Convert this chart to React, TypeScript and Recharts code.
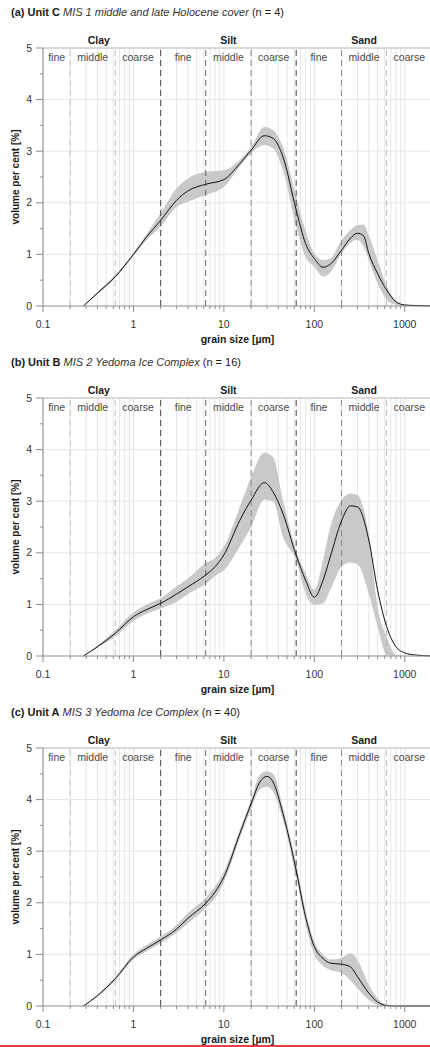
import React from "react";
import {
  ComposedChart,
  Area,
  Line,
  XAxis,
  YAxis,
  CartesianGrid,
  ReferenceLine,
  ReferenceArea,
} from "recharts";

// grain size classes (µm)
const classBounds = [0.2, 0.63, 2, 6.3, 20, 63, 200, 630];
const subClasses = [
  { x1: 0.1, x2: 0.2, label: "fine" },
  { x1: 0.2, x2: 0.63, label: "middle" },
  { x1: 0.63, x2: 2, label: "coarse" },
  { x1: 2, x2: 6.3, label: "fine" },
  { x1: 6.3, x2: 20, label: "middle" },
  { x1: 20, x2: 63, label: "coarse" },
  { x1: 63, x2: 200, label: "fine" },
  { x1: 200, x2: 630, label: "middle" },
  { x1: 630, x2: 2000, label: "coarse" },
];
const fractions = [
  { x1: 0.1, x2: 2, label: "Clay" },
  { x1: 2, x2: 63, label: "Silt" },
  { x1: 63, x2: 2000, label: "Sand" },
];

const decades = [0.1, 1, 10, 100, 1000];
const xTicks = [
  0.1, 0.2, 0.3, 0.4, 0.5, 0.6, 0.7, 0.8, 0.9,
  1, 2, 3, 4, 5, 6, 7, 8, 9,
  10, 20, 30, 40, 50, 60, 70, 80, 90,
  100, 200, 300, 400, 500, 600, 700, 800, 900,
  1000, 2000,
];
const yTicks = [0, 0.5, 1, 1.5, 2, 2.5, 3, 3.5, 4, 4.5, 5];
const yGrid = [1, 2, 3, 4];

// panel titles
const panelTags = ["(a)", "(b)", "(c)"];
const units = ["Unit C", "Unit B", "Unit A"];
const stages = [
  "MIS 1 middle and late Holocene cover",
  "MIS 2 Yedoma Ice Complex",
  "MIS 3 Yedoma Ice Complex",
];
const counts = [4, 16, 40];

// (a) Unit C
const sizeA = [0.28, 0.4, 0.63, 1, 1.4, 2, 3, 4, 6.3, 10, 15, 20, 28, 35, 45, 63, 80, 100, 125, 150, 200, 250, 300, 350, 400, 500, 630, 800, 1000, 1300, 2000];
const meanA = [0, 0.25, 0.57, 1.0, 1.34, 1.66, 2.05, 2.23, 2.36, 2.45, 2.76, 3.02, 3.3, 3.25, 2.89, 1.86, 1.21, 0.92, 0.75, 0.81, 1.08, 1.31, 1.41, 1.36, 1.02, 0.63, 0.31, 0.08, 0.02, 0.01, 0];
const hiA = [0, 0.27, 0.6, 1.03, 1.4, 1.8, 2.28, 2.47, 2.6, 2.63, 2.83, 3.08, 3.47, 3.41, 3.08, 2.12, 1.45, 1.02, 0.89, 0.92, 1.28, 1.47, 1.57, 1.58, 1.37, 0.89, 0.4, 0.1, 0.03, 0.01, 0];
const loA = [0, 0.23, 0.54, 0.97, 1.28, 1.54, 1.92, 2.02, 2.15, 2.31, 2.7, 2.96, 3.12, 3.05, 2.63, 1.54, 0.95, 0.76, 0.57, 0.65, 1.02, 1.22, 1.28, 1.15, 0.89, 0.44, 0.12, 0.02, 0, 0, 0];

// (b) Unit B
const sizeB = [0.28, 0.4, 0.63, 1, 1.4, 2, 3, 4, 6.3, 8, 10, 15, 20, 28, 35, 45, 63, 80, 100, 125, 150, 200, 250, 300, 400, 500, 630, 800, 1000, 1300, 2000];
const meanB = [0, 0.18, 0.44, 0.76, 0.9, 1.02, 1.2, 1.34, 1.57, 1.73, 1.96, 2.63, 3.02, 3.36, 3.18, 2.76, 1.95, 1.47, 1.14, 1.47, 1.92, 2.62, 2.91, 2.89, 2.25, 1.28, 0.57, 0.18, 0.06, 0.02, 0];
const hiB = [0, 0.2, 0.5, 0.85, 1.0, 1.12, 1.35, 1.5, 1.8, 1.9, 2.12, 2.89, 3.47, 3.94, 3.85, 3.02, 2.05, 1.6, 1.28, 1.86, 2.5, 3.02, 3.15, 3.12, 2.35, 0.95, 0.37, 0.02, 0, 0, 0];
const loB = [0, 0.16, 0.38, 0.68, 0.82, 0.92, 1.05, 1.2, 1.4, 1.55, 1.66, 2.12, 2.5, 3.03, 3.0, 2.31, 1.85, 1.21, 0.99, 1.02, 1.28, 1.73, 1.81, 1.78, 1.21, 0.57, 0.03, 0, 0, 0, 0];

// (c) Unit A
const sizeC = [0.28, 0.4, 0.63, 1, 1.4, 2, 3, 4, 6.3, 8, 10, 15, 20, 25, 30, 35, 45, 63, 80, 100, 125, 150, 200, 250, 300, 400, 500, 630, 800, 1000, 2000];
const meanC = [0, 0.2, 0.53, 0.95, 1.12, 1.28, 1.49, 1.7, 1.99, 2.21, 2.5, 3.34, 3.92, 4.34, 4.45, 4.34, 3.73, 2.63, 1.73, 1.15, 0.92, 0.83, 0.81, 0.76, 0.57, 0.25, 0.08, 0.01, 0, 0, 0];
const hiC = [0, 0.22, 0.56, 1.0, 1.18, 1.35, 1.57, 1.8, 2.1, 2.32, 2.6, 3.42, 4.0, 4.48, 4.55, 4.5, 3.85, 2.75, 1.85, 1.25, 1.0, 0.9, 0.93, 1.02, 0.89, 0.41, 0.15, 0.02, 0, 0, 0];
const loC = [0, 0.18, 0.5, 0.9, 1.06, 1.22, 1.42, 1.6, 1.9, 2.1, 2.4, 3.25, 3.82, 4.2, 4.25, 4.15, 3.6, 2.5, 1.6, 1.0, 0.78, 0.7, 0.64, 0.5, 0.34, 0.12, 0.02, 0, 0, 0, 0];

const boundColor: Record<number, string> = {
  0.2: "#c4c4c4",
  0.63: "#c4c4c4",
  2: "#444",
  6.3: "#666",
  20: "#888",
  63: "#444",
  200: "#888",
  630: "#b8b8b8",
};
const AXIS = "#8c8c8c";

const XTick = (p: any) => {
  const { x, y, payload } = p;
  const major = decades.includes(payload.value);
  return (
    <g>
      <line x1={x} x2={x} y1={y} y2={y + (major ? 6 : 3)} stroke={AXIS} />
      {major && (
        <text x={x} y={y + 22} textAnchor="middle" fontSize={10.5} fill="#333">
          {String(payload.value)}
        </text>
      )}
    </g>
  );
};

const YTick = (p: any) => {
  const { x, y, payload } = p;
  const major = Number.isInteger(payload.value);
  return (
    <g>
      <line x1={x - (major ? 7 : 3)} x2={x} y1={y} y2={y} stroke={AXIS} />
      {major && (
        <text x={x - 11} y={y} dy="0.35em" textAnchor="end" fontSize={10.5} fill="#333">
          {String(payload.value)}
        </text>
      )}
    </g>
  );
};

function Panel({ idx, sizes, mean, lo, hi }: any) {
  const rows = sizes.map((s: number, i: number) => ({
    size: s,
    mean: mean[i],
    band: [lo[i], hi[i]],
  }));
  return (
    <div style={{ position: "absolute", left: 0, top: idx * 350, width: 432, height: 350 }}>
      <div
        style={{
          position: "absolute",
          left: 11,
          top: 6,
          fontSize: 11,
          lineHeight: "13px",
          whiteSpace: "nowrap",
          color: "#1a1a1a",
        }}
      >
        <b>
          {panelTags[idx]} {units[idx]}
        </b>{" "}
        <i style={{ color: "#333" }}>{stages[idx]}</i> (n = {counts[idx]})
      </div>
      <div
        style={{
          position: "absolute",
          left: 15,
          top: 177,
          transform: "translate(-50%, -50%) rotate(-90deg)",
          fontSize: 10,
          fontWeight: "bold",
          whiteSpace: "nowrap",
          color: "#1a1a1a",
        }}
      >
        volume per cent [%]
      </div>
      <ComposedChart
        width={432}
        height={350}
        data={rows}
        margin={{ top: 48, right: 0, left: 0, bottom: 0 }}
      >
        <CartesianGrid
          stroke="#e6e6e6"
          horizontalValues={yGrid}
          verticalValues={xTicks}
        />
        <XAxis
          dataKey="size"
          type="number"
          scale="log"
          domain={[0.1, 2000]}
          allowDataOverflow
          ticks={xTicks}
          interval={0}
          tickSize={0}
          tickMargin={0}
          tickLine={false}
          axisLine={{ stroke: AXIS }}
          height={44}
          tick={XTick}
          label={{
            value: "grain size [µm]",
            position: "insideBottom",
            offset: 7,
            fontSize: 10.5,
            fontWeight: "bold",
            fill: "#1a1a1a",
          }}
        />
        <YAxis
          type="number"
          domain={[0, 5]}
          ticks={yTicks}
          interval={0}
          width={43}
          tickSize={0}
          tickMargin={0}
          tickLine={false}
          axisLine={{ stroke: AXIS }}
          tick={YTick}
        />
        <Area
          dataKey="band"
          type="monotone"
          stroke="none"
          fill="#c9c9c9"
          fillOpacity={1}
          isAnimationActive={false}
        />
        {classBounds.map((b) => (
          <ReferenceLine
            key={"b" + b}
            x={b}
            stroke={boundColor[b]}
            strokeDasharray="6 4"
          />
        ))}
        <ReferenceLine y={5} stroke="#b4b4b4" />
        {subClasses.map((c, i) => (
          <ReferenceArea
            key={"s" + i}
            x1={c.x1}
            x2={c.x2}
            fill="none"
            stroke="none"
            label={{
              value: c.label,
              position: "insideTop",
              offset: 6,
              fontSize: 10.5,
              fill: "#4a4a4a",
            }}
          />
        ))}
        {fractions.map((f) => (
          <ReferenceArea
            key={f.label}
            x1={f.x1}
            x2={f.x2}
            fill="none"
            stroke="none"
            label={{
              value: f.label,
              position: "top",
              offset: 4,
              dx: f.label === "Clay" ? -3 : 0,
              fontSize: 10.5,
              fontWeight: "bold",
              fill: "#1a1a1a",
            }}
          />
        ))}
        <Line
          dataKey="mean"
          type="monotone"
          stroke="#111"
          strokeWidth={1}
          dot={false}
          isAnimationActive={false}
        />
      </ComposedChart>
    </div>
  );
}

export default function App() {
  return (
    <div
      style={{
        position: "absolute",
        left: 0,
        top: 0,
        width: 430,
        height: 1047,
        overflow: "hidden",
        background: "#fff",
        fontFamily: '"Liberation Sans", Arial, sans-serif',
      }}
    >
      <Panel idx={0} sizes={sizeA} mean={meanA} lo={loA} hi={hiA} />
      <Panel idx={1} sizes={sizeB} mean={meanB} lo={loB} hi={hiB} />
      <Panel idx={2} sizes={sizeC} mean={meanC} lo={loC} hi={hiC} />
      <div
        style={{
          position: "absolute",
          left: 0,
          top: 1045,
          width: 430,
          height: 2,
          background: "#e8413b",
        }}
      />
    </div>
  );
}
